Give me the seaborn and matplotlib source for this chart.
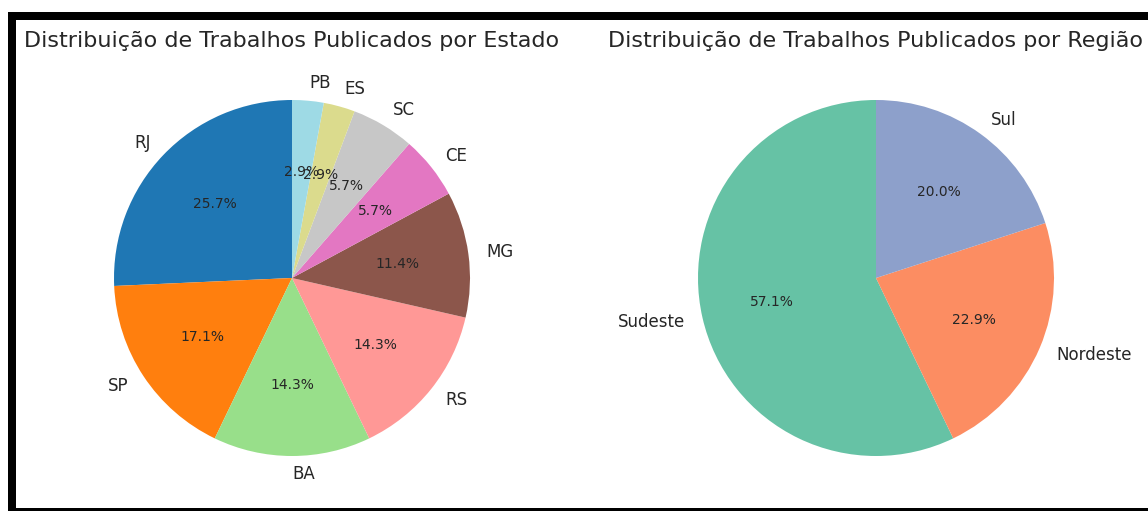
import numpy as np
import matplotlib
import matplotlib.pyplot as plt
import seaborn as sns
from matplotlib.patches import Rectangle

matplotlib.use('Agg')

# dados: trabalhos publicados por estado e por região
estados = ['RJ', 'SP', 'BA', 'RS', 'MG', 'CE', 'SC', 'ES', 'PB']
trabalhos_estado = [9, 6, 5, 5, 4, 2, 2, 1, 1]

regioes = ['Sudeste', 'Nordeste', 'Sul']
trabalhos_regiao = [20, 8, 7]

sns.set_theme(style='darkgrid')
plt.rcParams['font.family'] = ['DejaVu Sans']

W, H = 1148, 511
fig = plt.figure(figsize=(W / 100, H / 100), dpi=100)
fig.patch.set_facecolor('white')

# moldura preta do print original
fig.add_artist(Rectangle((8 / W, 0), 1.0, (H - 12) / H, transform=fig.transFigure,
                         facecolor='black', edgecolor='none', zorder=-2))
fig.add_artist(Rectangle((16 / W, 3 / H), 1.0, (H - 23) / H, transform=fig.transFigure,
                         facecolor='white', edgecolor='none', zorder=-1))

box = 445
ax1 = fig.add_axes([(292 - box / 2) / W, (H - 278 - box / 2) / H, box / W, box / H])
ax2 = fig.add_axes([(876 - box / 2) / W, (H - 278 - box / 2) / H, box / W, box / H])

cores_estado = plt.cm.tab20(np.linspace(0, 1, len(estados)))
ax1.pie(trabalhos_estado, labels=estados, autopct='%1.1f%%', startangle=90,
        colors=cores_estado, textprops={'fontsize': 12},
        wedgeprops={'linewidth': 0})
for t in ax1.texts:
    if '%' in t.get_text():
        t.set_fontsize(10)
ax1.set_title('Distribuição de Trabalhos Publicados por Estado', fontsize=16)

cores_regiao = sns.color_palette('Set2', len(regioes))
ax2.pie(trabalhos_regiao, labels=regioes, autopct='%1.1f%%', startangle=90,
        colors=cores_regiao, textprops={'fontsize': 12},
        wedgeprops={'linewidth': 0})
for t in ax2.texts:
    if '%' in t.get_text():
        t.set_fontsize(10)
ax2.set_title('Distribuição de Trabalhos Publicados por Região', fontsize=16)

plt.savefig('out.png', dpi=100)
plt.close()
